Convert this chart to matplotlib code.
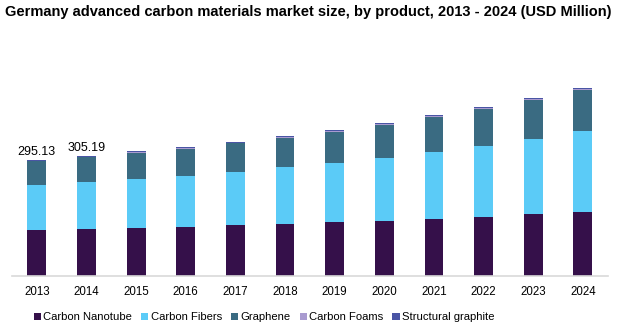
import matplotlib.pyplot as plt
import numpy as np

plt.rcParams['font.family'] = ['Liberation Sans', 'DejaVu Sans']

years = ['2013', '2014', '2015', '2016', '2017', '2018',
         '2019', '2020', '2021', '2022', '2023', '2024']

# USD Million per product
carbon_nanotube = [117.0, 119.5, 122.0, 124.5, 129.0, 131.5, 136.5, 139.0, 145.0, 150.0, 157.5, 162.5]
carbon_fibers = [115.0, 120.2, 124.5, 129.5, 135.0, 145.0, 150.0, 160.0, 170.0, 180.5, 190.5, 206.0]
graphene = [59.5, 61.7, 66.0, 68.6, 73.0, 74.0, 79.0, 84.0, 90.0, 94.0, 99.0, 104.0]
carbon_foams = [1.3, 1.4, 1.6, 1.8, 1.6, 2.0, 2.0, 2.1, 2.2, 2.3, 2.4, 2.5]
structural_graphite = [2.3, 2.4, 2.5, 2.6, 2.5, 2.7, 2.8, 2.9, 3.0, 3.0, 3.1, 3.2]

series = [
    ('Carbon Nanotube', carbon_nanotube, '#35104a'),
    ('Carbon Fibers', carbon_fibers, '#5bcbf7'),
    ('Graphene', graphene, '#3a6b82'),
    ('Carbon Foams', carbon_foams, '#a99bd0'),
    ('Structural graphite', structural_graphite, '#4a55a5'),
]

# totals shown above the first two bars
labeled = {0: '295.13', 1: '305.19'}

fig = plt.figure(figsize=(6.17, 3.29), dpi=100)
ax = fig.add_axes([0.0194, 0.161, 0.9656, 0.748])

x = np.arange(len(years))
bottom = np.zeros(len(years))
for name, vals, color in series:
    ax.bar(x, vals, width=0.38, bottom=bottom, color=color, label=name, zorder=2)
    bottom += np.array(vals)

for i, txt in labeled.items():
    ax.text(x[i], bottom[i] + 4, txt, ha='center', va='bottom', fontsize=9)

ax.set_xlim(-0.5, 11.5)
ax.set_ylim(0, 625)
ax.set_xticks(x)
ax.set_xticklabels(years, fontsize=8.3)
ax.tick_params(axis='x', length=0, pad=7)
ax.set_yticks([])
for side in ['top', 'right', 'left']:
    ax.spines[side].set_visible(False)
ax.spines['bottom'].set_color('#d9d9d9')
ax.spines['bottom'].set_linewidth(1.2)

fig.text(0.5, 0.963, 'Germany advanced carbon materials market size, by product, 2013 - 2024 (USD Million)',
         ha='center', va='center', fontsize=10.5, fontweight='bold')

fig.legend(loc='center', bbox_to_anchor=(0.428, 0.035), ncol=5, frameon=False,
           fontsize=8.1, handlelength=0.65, handleheight=0.65, handletextpad=0.2,
           columnspacing=0.8, borderaxespad=0)

fig.savefig('out.png', dpi=100)
